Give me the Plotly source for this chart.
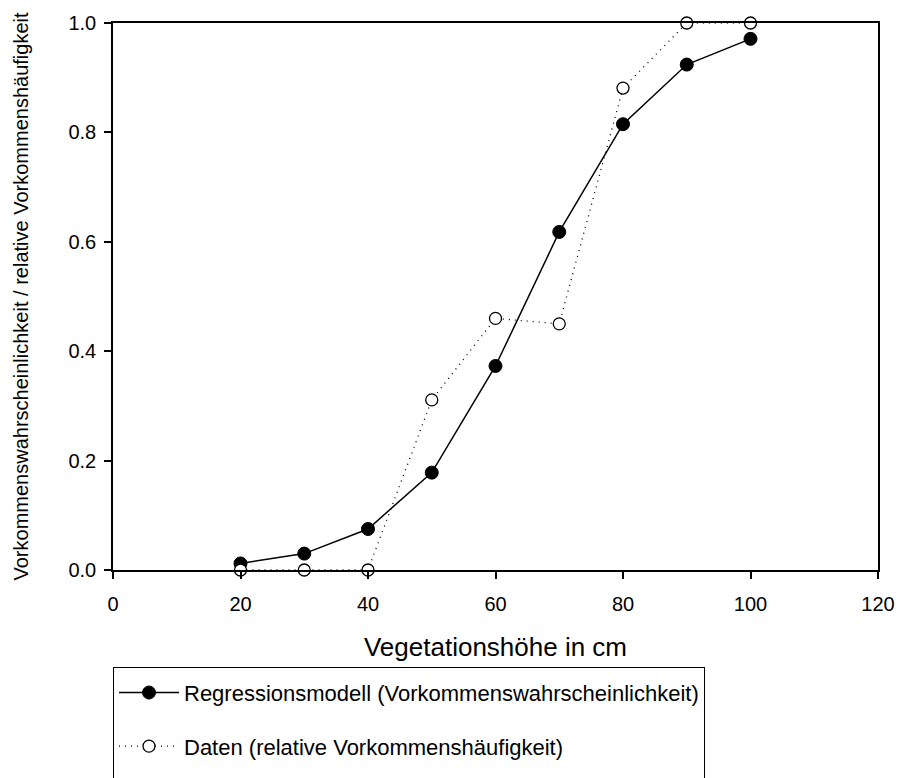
import plotly.graph_objects as go

x_vals = [20, 30, 40, 50, 60, 70, 80, 90, 100]
model_vals = [0.012, 0.030, 0.075, 0.178, 0.373, 0.618, 0.815, 0.924, 0.971]
data_vals = [0.0, 0.0, 0.0, 0.311, 0.46, 0.45, 0.881, 1.0, 1.0]
x_ticks = [0, 20, 40, 60, 80, 100, 120]
y_ticks = [0.0, 0.2, 0.4, 0.6, 0.8, 1.0]

FONT = "Arial, Liberation Sans, sans-serif"

fig = go.Figure()
fig.add_trace(go.Scatter(
    x=x_vals, y=model_vals, mode="lines+markers",
    name="Regressionsmodell (Vorkommenswahrscheinlichkeit)",
    line=dict(color="black", width=1.5),
    marker=dict(symbol="circle", size=13, color="black", line=dict(color="black", width=1)),
    cliponaxis=False, legendgroup="a",
))
fig.add_trace(go.Scatter(
    x=x_vals, y=data_vals, mode="lines+markers",
    name="Daten (relative Vorkommenshäufigkeit)<br> ",
    line=dict(color="black", width=1.3, dash="1px,5px"),
    marker=dict(symbol="circle", size=12, color="white", line=dict(color="black", width=1.3)),
    cliponaxis=False, legendgroup="b",
))

fig.update_layout(
    width=900, height=778,
    margin=dict(l=113, r=22, t=23, b=208, autoexpand=False),
    paper_bgcolor="white", plot_bgcolor="white",
    font=dict(family=FONT, size=20, color="black"),
    showlegend=True,
    legend=dict(
        x=0, xanchor="left", y=-0.177, yanchor="top",
        bordercolor="black", borderwidth=1, bgcolor="white",
        font=dict(family=FONT, size=22, color="black"),
        tracegroupgap=22, itemwidth=60, valign="top",
        title=dict(text=" ", font=dict(size=3)),
    ),
    xaxis=dict(
        range=[0, 120], tickvals=x_ticks, ticktext=[str(v) for v in x_ticks],
        showgrid=False, zeroline=False, showline=True, linecolor="black", linewidth=1.5,
        mirror=True, ticks="outside", ticklen=7, tickwidth=1.5, tickcolor="black",
        tickfont=dict(family=FONT, size=20), ticklabelstandoff=8, automargin=False,
        title=dict(text="Vegetationshöhe in cm", font=dict(family=FONT, size=26), standoff=24),
    ),
    yaxis=dict(
        range=[0, 1], tickvals=y_ticks, ticktext=[f"{v:.1f}" for v in y_ticks],
        showgrid=False, zeroline=False, showline=True, linecolor="black", linewidth=1.5,
        mirror=True, ticks="outside", ticklen=7, tickwidth=1.5, tickcolor="black",
        tickfont=dict(family=FONT, size=20), ticklabelstandoff=4, automargin=False,
        title=dict(text="Vorkommenswahrscheinlichkeit / relative Vorkommenshäufigkeit",
                   font=dict(family=FONT, size=20), standoff=34),
    ),
)

fig.write_html("out.html")
